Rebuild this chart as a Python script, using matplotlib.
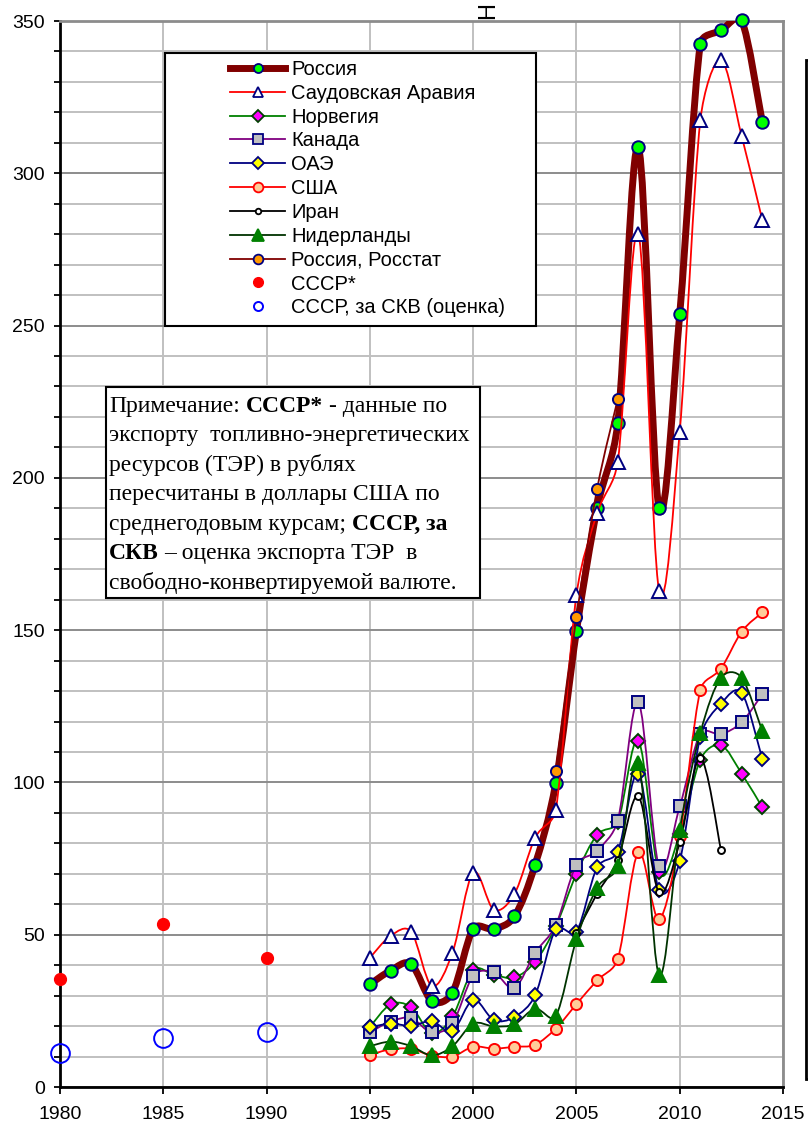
import matplotlib
matplotlib.use("Agg")
import numpy as np
import matplotlib.pyplot as plt
from matplotlib.path import Path
from matplotlib.patches import PathPatch, Rectangle
from matplotlib.lines import Line2D
from matplotlib.text import Annotation

plt.rcParams['font.family'] = ['Liberation Sans', 'DejaVu Sans']

# export of fuel and energy resources, bn USD
years = list(range(1995, 2015))
russia = [33.7, 38.2, 40.3, 28.3, 31.0, 51.9, 51.9, 56.0, 73.0, 99.9,
          149.7, 190.0, 217.9, 308.5, 190.0, 253.7, 342.4, 346.9, 350.2, 316.7]
saudi = [42.4, 49.6, 51.0, 33.2, 44.1, 70.4, 58.2, 63.4, 81.8, 91.0,
         161.5, 188.3, 205.3, 280.2, 163.0, 215.2, 317.5, 337.2, 312.2, 284.6]
norway = [19.7, 27.1, 26.2, 17.7, 23.2, 38.3, 36.8, 36.0, 41.1, 52.7,
          70.0, 82.8, 87.0, 113.7, 70.5, 83.0, 107.5, 112.2, 102.9, 91.8]
canada = [17.9, 21.5, 22.6, 17.9, 20.9, 36.5, 37.6, 32.5, 44.1, 53.2,
          73.0, 77.6, 87.5, 126.3, 72.4, 92.1, 116.0, 115.9, 119.8, 129.0]
uae = [19.6, 20.8, 20.1, 21.6, 18.4, 28.6, 22.0, 23.0, 30.1, 51.8,
       51.0, 72.1, 77.3, 102.9, 64.7, 74.1, 115.0, 125.9, 129.4, 107.7]
usa = [10.5, 12.4, 12.5, 10.3, 10.0, 13.2, 12.6, 13.2, 13.9, 19.2,
       27.2, 35.0, 42.0, 77.0, 55.2, 82.3, 130.3, 137.4, 149.5, 155.8]
netherlands = [13.4, 14.9, 13.4, 10.4, 13.4, 20.8, 19.9, 20.6, 25.7, 23.3,
               48.5, 65.4, 72.4, 106.5, 36.8, 84.5, 116.3, 134.4, 134.4, 116.8]
iran_years = list(range(2005, 2013))
iran = [50.5, 63.5, 74.6, 95.4, 63.9, 80.3, 108.0, 77.7]
rosstat_years = list(range(2004, 2008))
rosstat = [103.7, 154.2, 196.3, 225.8]
ussr_years = [1980, 1985, 1990]
ussr = [35.5, 53.5, 42.2]
ussr_skv = [11.3, 16.0, 17.9]

W, H = 808, 1128
X0, X1, Y0, Y1 = 60, 783, 1087, 21   # plot area in pixels
SX = (X1 - X0) / 35.0                 # px per year
SY = (Y0 - Y1) / 350.0                # px per unit


def smooth_path(x, y, cap=0.45):
    # Catmull-Rom bezier in screen space; each control arm is capped
    # relative to the length of its own segment so short steps don't overshoot
    p = np.column_stack([np.asarray(x, float) * SX, np.asarray(y, float) * SY])
    n = len(p)
    tang = [(p[min(i + 1, n - 1)] - p[max(i - 1, 0)]) / 6.0 for i in range(n)]

    def arm(t, L):
        m = np.hypot(*t)
        if m > cap * L and m > 0:
            return t * (cap * L / m)
        return t

    verts = [p[0]]
    codes = [Path.MOVETO]
    for i in range(n - 1):
        L = np.hypot(*(p[i + 1] - p[i]))
        verts += [p[i] + arm(tang[i], L), p[i + 1] - arm(tang[i + 1], L), p[i + 1]]
        codes += [Path.CURVE4] * 3
    verts = np.array(verts) / [SX, SY]
    return Path(verts, codes)


fig = plt.figure(figsize=(W / 100, H / 100), dpi=100)
ax = fig.add_axes([X0 / W, 1 - Y0 / H, (X1 - X0) / W, (Y0 - Y1) / H])

ax.set_xlim(1980, 2015)
ax.set_ylim(0, 350)
ax.set_xticks(range(1980, 2016, 5))
ax.set_yticks(range(0, 351, 50))
ax.set_yticks(range(0, 351, 10), minor=True)
ax.grid(which='minor', axis='y', color='#c0c0c0', lw=1.4)
ax.grid(which='major', axis='y', color='#8c8c8c', lw=1.4)
ax.grid(which='major', axis='x', color='#c0c0c0', lw=1.4)
ax.set_axisbelow(True)
ax.tick_params(axis='both', which='both', direction='out', color='black',
               labelsize=14, width=1.3)
ax.tick_params(axis='y', which='major', length=4, pad=7)
ax.tick_params(axis='y', which='minor', length=4)
ax.tick_params(axis='x', which='major', length=5, pad=9)
for side in ('left', 'bottom'):
    ax.spines[side].set_color('black')
    ax.spines[side].set_linewidth(2)
for side in ('top', 'right'):
    ax.spines[side].set_color('#8c8c8c')
    ax.spines[side].set_linewidth(2)

series = [
    # x, y, line colour, line width, marker, size, face, edge
    (years, russia, '#800000', 5.0, 'o', 9, '#00ff00', '#000080'),
    (years, saudi, '#ff0000', 1.3, '^', 10, 'white', '#000080'),
    (years, norway, '#008000', 1.3, 'D', 7.5, '#ff00ff', '#004000'),
    (years, canada, '#800080', 1.3, 's', 8.5, '#c0c0c0', '#000080'),
    (years, uae, '#000080', 1.3, 'D', 7.5, '#ffff00', '#000080'),
    (years, usa, '#ff0000', 1.3, 'o', 8, '#ffcc99', '#ff0000'),
    (iran_years, iran, '#000000', 1.3, 'o', 5, 'white', '#000000'),
    (years, netherlands, '#003300', 1.3, '^', 10, '#008000', '#008000'),
    (rosstat_years, rosstat, '#800000', 1.3, 'o', 8, '#ff9900', '#000080'),
]
for z, (x, y, lc, lw, m, ms, fc, ec) in enumerate(series):
    ax.add_patch(PathPatch(smooth_path(x, y), fill=False, edgecolor=lc, lw=lw,
                           capstyle='round', joinstyle='round', zorder=3 + z))
    ax.plot(x, y, ls='none', marker=m, ms=ms, mfc=fc, mec=ec, mew=1.4,
            zorder=3 + z + 0.5, clip_on=False)

ax.plot(ussr_years, ussr, ls='none', marker='o', ms=8.5, mfc='#ff0000',
        mec='#ff0000', zorder=20, clip_on=False)
ax.plot(ussr_years, ussr_skv, ls='none', marker='o', ms=13.5, mfc='none',
        mec='#0000ff', mew=1.4, zorder=20, clip_on=False)


def fig_box(x0, y0, x1, y1, lw=1.5):
    r = Rectangle((x0 / W, 1 - y1 / H), (x1 - x0) / W, (y1 - y0) / H,
                  transform=fig.transFigure, facecolor='white',
                  edgecolor='black', lw=lw, zorder=5)
    fig.add_artist(r)


# legend with its own frame
fig_box(165, 53, 536, 326)
labels = ['Россия', 'Саудовская Аравия', 'Норвегия', 'Канада', 'ОАЭ', 'США',
          'Иран', 'Нидерланды', 'Россия, Росстат', 'СССР*',
          'СССР, за СКВ (оценка)']
legend_ms = [6.5, 7.5, 6.5, 7, 6.5, 7, 4, 8, 7]
handles = []
for (x, y, lc, lw, m, ms, fc, ec), lms in zip(series, legend_ms):
    handles.append(Line2D([], [], color=lc, lw=lw, marker=m, ms=lms,
                          mfc=fc, mec=ec, mew=1.3))
handles.append(Line2D([], [], ls='none', marker='o', ms=7, mfc='#ff0000',
                      mec='#ff0000'))
handles.append(Line2D([], [], ls='none', marker='o', ms=6.5, mfc='none',
                      mec='#0000ff', mew=1.4))
leg = fig.legend(handles, labels, loc='upper left',
                 bbox_to_anchor=(230 / W, 1 - 60 / H), frameon=False,
                 fontsize=14.5, handlelength=2.75, handletextpad=0.3,
                 labelspacing=0.24, borderpad=0, borderaxespad=0)
leg.set_zorder(10)

# note box with partly bold text
fig_box(106, 387, 480, 598)
note = [
    [('Примечание:', False), ('СССР*', True), ('- данные по', False)],
    [('экспорту  топливно-энергетических', False)],
    [('ресурсов (ТЭР) в рублях', False)],
    [('пересчитаны в доллары США по', False)],
    [('среднегодовым курсам;', False), ('СССР, за', True)],
    [('СКВ', True), ('– оценка экспорта ТЭР  в', False)],
    [('свободно-конвертируемой валюте.', False)],
]
note_font = dict(family=['Liberation Serif', 'DejaVu Serif'], size=17)
for i, line in enumerate(note):
    yb = 1 - (405 + 29.45 * i + 12) / H
    last = None
    for s, bold in line:
        w = 'bold' if bold else 'normal'
        if last is None:
            last = fig.text(109 / W, yb, s, va='bottom', ha='left',
                            fontweight=w, zorder=10, **note_font)
        else:
            a = Annotation(s, xy=(1, 0), xycoords=last, xytext=(4.2, 0),
                           textcoords='offset points', va='bottom', ha='left',
                           fontweight=w, annotation_clip=False, zorder=10,
                           **note_font)
            fig.add_artist(a)
            last = a

# box cut off at the right edge and the title above it
fig_box(806, 60, 840, 1079, lw=2)
fig.text(488 / W, 1 - 19 / H, 'Н', rotation=90, ha='center', va='bottom',
         fontsize=17)

fig.savefig('out.png', dpi=100)
